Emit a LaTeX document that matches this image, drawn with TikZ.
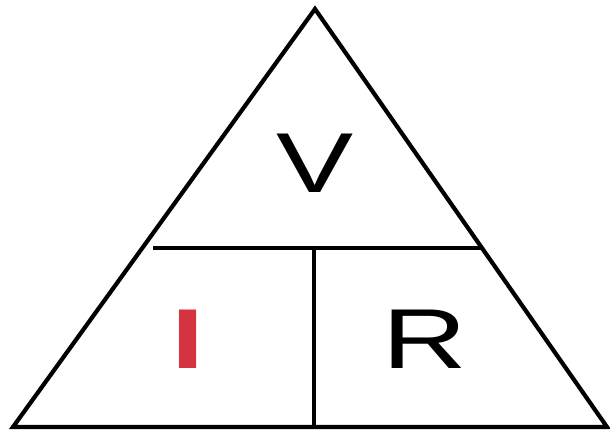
\documentclass[tikz,border=0pt]{standalone}
\usepackage{fontspec}
\setmainfont{Liberation Sans}
\definecolor{ired}{HTML}{D63340}
\begin{document}
\begin{tikzpicture}[x=1pt,y=-1pt,
  edge/.style={line width=4.2pt,black},
  letter/.style={inner sep=0pt,anchor=base,font=\fontsize{85}{85}\selectfont}]
\useasboundingbox (0,0) rectangle (610,435);
\coordinate (top) at (315,9);
\coordinate (bl) at (13,427);
\coordinate (br) at (607,427);
\coordinate (hl) at (153,248);
\coordinate (hr) at (482,248);
\coordinate (vt) at (314,248);
\coordinate (vb) at (314,427);
\draw[edge,line join=miter] (bl) -- (top) -- (br) -- cycle;
\draw[edge] (hl) -- (hr);
\draw[edge] (vt) -- (vb);
\node[letter] (V) at (315,193) {\scalebox{1.36}[1]{V}};
\node[letter,text=ired] (I) at (188,368) {\scalebox{1.4}[1]{\textbf{I}}};
\node[letter] (R) at (425,368) {\scalebox{1.38}[1]{R}};
\end{tikzpicture}
\end{document}
